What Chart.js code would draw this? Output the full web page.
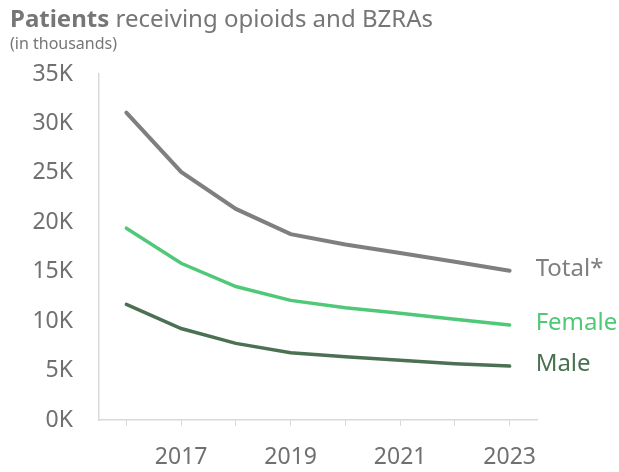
<!DOCTYPE html>
<html>
<head>
<meta charset="utf-8">
<script src="https://cdn.jsdelivr.net/npm/chart.js@4"></script>
<style>
  html, body { margin: 0; padding: 0; background: #fff; }
  #wrap { position: relative; width: 619px; height: 472px; }
</style>
</head>
<body>
<div id="wrap"><canvas id="chart"></canvas></div>
<script>
// values in thousands of patients
const years = ["2016", "2017", "2018", "2019", "2020", "2021", "2022", "2023"];
const totalPatients = [31.1, 25.1, 21.35, 18.8, 17.75, 16.9, 16.0, 15.1];
const femalePatients = [19.4, 15.85, 13.5, 12.1, 11.35, 10.8, 10.2, 9.6];
const malePatients = [11.7, 9.25, 7.75, 6.8, 6.4, 6.05, 5.7, 5.45];
const seriesNames = ["Total*", "Female", "Male"];
const labeledYears = ["2017", "2019", "2021", "2023"];

const FONT = "'Noto Sans', 'Open Sans', sans-serif";
const TEXT = "#707070";
const COLORS = ["#7f7f7f", "#4fc878", "#4b7152"];

// title drawn straight onto the canvas (bold + regular in one line)
const titlePlugin = {
  id: "titleText",
  afterDraw(chart) {
    const c = chart.ctx;
    c.save();
    c.textBaseline = "alphabetic";
    c.textAlign = "left";
    c.fillStyle = "#767676";
    c.font = "bold 24px " + FONT;
    c.fillText("Patients", 10, 27);
    const w = c.measureText("Patients ").width;
    c.font = "24px " + FONT;
    c.fillText("receiving opioids and BZRAs", 10 + w, 27);
    c.font = "16px " + FONT;
    c.fillText("(in thousands)", 10, 49);
    c.restore();
  },
};

// series names at the right end of every line
const endLabels = {
  id: "endLabels",
  afterDatasetsDraw(chart) {
    const c = chart.ctx;
    c.save();
    c.font = "24px " + FONT;
    c.textAlign = "left";
    c.textBaseline = "middle";
    chart.data.datasets.forEach((ds, i) => {
      const pts = chart.getDatasetMeta(i).data;
      const last = pts[pts.length - 1];
      c.fillStyle = ds.borderColor;
      c.fillText(seriesNames[i], last.x + 26, last.y - 2);
    });
    c.restore();
  },
};

new Chart(document.getElementById("chart"), {
  type: "line",
  data: {
    labels: years,
    datasets: [
      { label: seriesNames[0], data: totalPatients, borderColor: COLORS[0], borderWidth: 4 },
      { label: seriesNames[1], data: femalePatients, borderColor: COLORS[1], borderWidth: 3.5 },
      { label: seriesNames[2], data: malePatients, borderColor: COLORS[2], borderWidth: 3.5 },
    ].map((d) => ({ ...d, pointRadius: 0, tension: 0, fill: false, borderCapStyle: "round" })),
  },
  options: {
    responsive: true,
    maintainAspectRatio: false,
    animation: false,
    layout: { padding: { top: 74, right: 82, left: 0, bottom: 0 } },
    plugins: {
      legend: { display: false },
      tooltip: { enabled: false },
    },
    scales: {
      x: {
        offset: true,
        grid: {
          offset: false,
          drawOnChartArea: false,
          drawTicks: true,
          tickLength: 6,
          color: "#d9d9d9",
        },
        border: { color: "#d9d9d9", width: 1.5 },
        ticks: {
          autoSkip: false,
          maxRotation: 0,
          padding: 18,
          color: TEXT,
          font: { family: FONT, size: 23 },
          callback(v) {
            const y = this.getLabelForValue(v);
            return labeledYears.includes(y) ? y : "";
          },
        },
        afterFit(s) { s.height = 52; },
      },
      y: {
        min: 0,
        max: 35,
        grid: { drawOnChartArea: false, drawTicks: false },
        border: { color: "#d9d9d9", width: 1.5 },
        ticks: {
          stepSize: 5,
          padding: 26,
          color: TEXT,
          font: { family: FONT, size: 23 },
          callback: (v) => v + "K",
        },
        afterFit(s) { s.width = 99; },
      },
    },
  },
  plugins: [titlePlugin, endLabels],
});
</script>
</body>
</html>
